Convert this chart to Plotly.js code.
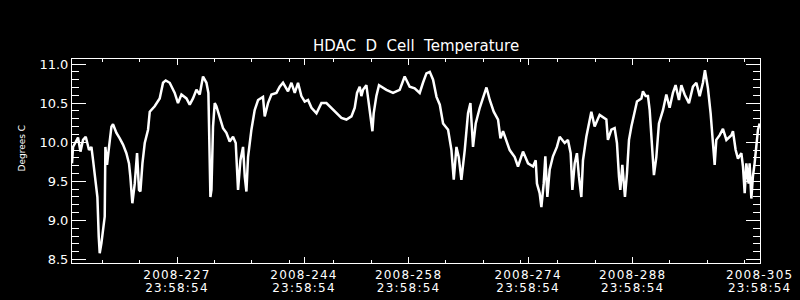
<!DOCTYPE html>
<html><head><meta charset="utf-8">
<script src="https://cdn.plot.ly/plotly-3.0.1.min.js"></script>
<style>html,body{margin:0;padding:0;background:#000;}#chart{width:800px;height:300px;}
#chart .xtick text, #chart .x3tick text { letter-spacing: 1.2px; }</style>
</head><body><div id="chart"></div>
<script>
// Day of year 2008 (fractional) and HDAC D cell temperature (deg C)
const dayOfYear = [
212.94,213.08,213.75,214.07,214.42,214.78,215.22,215.54,215.76,216.12,216.34,216.52,216.65,216.88,217.09,217.32,217.41,217.63,217.90,218.22,218.43,218.89,219.33,219.77,220.22,220.57,220.75,221.02,221.34,221.65,221.91,222.10,222.37,222.68,223.12,223.35,224.01,224.68,225.13,225.49,226.02,226.69,227.13,227.59,228.26,228.70,229.14,229.60,230.04,230.48,230.94,231.20,231.47,231.61,231.82,232.05,232.27,232.72,233.16,233.61,234.05,234.50,234.86,
235.17,235.49,235.84,236.07,236.29,236.51,236.96,237.40,237.85,238.51,238.74,239.18,239.64,240.31,240.75,241.19,241.86,242.32,242.76,243.20,243.65,244.10,244.54,245.00,245.67,246.33,247.00,247.67,248.34,249.01,249.68,250.35,250.79,251.10,251.46,251.68,251.90,252.35,252.57,253.02,253.16,253.33,253.69,254.04,255.03,255.92,256.81,257.48,258.15,258.82,259.49,259.93,260.39,
260.84,261.28,261.74,262.18,262.62,263.29,263.74,264.05,264.41,264.72,265.07,265.52,265.96,266.28,266.63,266.99,267.53,267.97,268.43,268.87,269.40,269.98,270.30,270.65,271.10,271.54,272.21,272.65,273.32,273.99,274.66,275.02,275.19,275.55,275.78,276.09,276.31,276.58,276.89,277.33,277.86,278.23,278.90,279.34,279.70,279.93,280.24,280.54,280.81,281.13,281.35,281.80,282.47,282.91,283.58,
284.48,284.69,285.15,285.59,285.90,286.17,286.35,286.62,286.80,286.97,287.24,287.51,287.83,288.27,288.58,289.17,289.38,289.74,290.05,290.28,290.50,290.72,290.85,291.17,291.52,292.06,292.51,292.95,293.39,293.75,294.20,294.52,294.96,295.54,296.07,296.53,296.97,297.41,297.68,298.08,298.44,298.75,298.98,299.20,299.65,300.09,300.55,301.22,301.43,301.79,302.10,302.55,302.77,303.00,303.22,303.53,303.66,303.89,304.10,304.33,304.55,304.78,305.00
];
const temperature = [
9.73,9.94,10.06,9.88,10.03,10.07,9.90,9.94,9.77,9.43,9.30,8.79,8.58,8.71,8.88,9.05,9.94,9.71,9.94,10.20,10.23,10.12,10.05,9.97,9.86,9.73,9.56,9.22,9.47,9.86,9.39,9.37,9.73,9.99,10.16,10.39,10.46,10.56,10.76,10.79,10.76,10.63,10.50,10.61,10.56,10.48,10.56,10.67,10.61,10.84,10.76,10.63,9.30,9.39,10.20,10.50,10.46,10.33,10.18,10.12,10.01,10.07,9.99,
9.39,9.77,9.94,9.56,9.37,9.81,10.16,10.41,10.54,10.58,10.33,10.50,10.61,10.63,10.71,10.76,10.65,10.76,10.63,10.76,10.59,10.52,10.54,10.44,10.37,10.50,10.50,10.44,10.37,10.31,10.29,10.33,10.44,10.63,10.71,10.59,10.67,10.73,10.57,10.24,10.14,10.37,10.59,10.73,10.67,10.63,10.67,10.84,10.71,10.69,10.63,10.76,10.88,
10.90,10.80,10.58,10.48,10.24,10.16,9.90,9.52,9.94,9.81,9.52,9.90,10.37,10.50,9.94,10.24,10.44,10.58,10.70,10.54,10.39,10.29,10.05,10.14,10.03,9.90,9.81,9.69,9.88,9.73,9.69,9.77,9.47,9.35,9.17,9.47,9.82,9.30,9.65,9.82,9.94,10.07,9.99,10.03,9.86,9.39,9.73,9.86,9.56,9.30,9.77,10.07,10.39,10.20,10.35,
10.29,10.03,10.16,10.18,9.99,9.56,9.39,9.71,9.43,9.30,9.60,10.03,10.20,10.39,10.52,10.56,10.65,10.59,10.59,10.41,10.07,9.64,9.58,9.81,10.24,10.41,10.61,10.44,10.63,10.73,10.54,10.73,10.61,10.50,10.71,10.76,10.59,10.76,10.92,10.69,10.37,9.99,9.71,10.03,10.09,10.17,10.03,10.09,10.14,9.90,9.79,9.86,9.69,9.35,9.73,9.47,9.73,9.28,9.56,9.73,9.94,10.16,10.24
];
const majorTickDays = [227, 244, 258, 274, 288, 305];
const majorTickDates = ["2008-227", "2008-244", "2008-258", "2008-274", "2008-288", "2008-305"];
const majorTickTimes = ["23:58:54", "23:58:54", "23:58:54", "23:58:54", "23:58:54", "23:58:54"];
const minorTickDays = [217, 222, 232, 237, 242, 248, 253, 263, 268, 273, 278, 283, 293, 298, 303];
const yTickValues = [8.5, 9.0, 9.5, 10.0, 10.5, 11.0];
const yTickLabels = ["8.5", "9.0", "9.5", "10.0", "10.5", "11.0"];
const xRange = [212.94, 305.05];
const yRange = [8.456, 11.064];
const chartTitle = "HDAC\u00a0 D\u00a0 Cell\u00a0 Temperature";
const yTitle = "Degrees C";

const FONT = "DejaVu Sans, Liberation Sans, sans-serif";
const W = "#ffffff";

const baseX = {
  range: xRange, autorange: false, tickmode: "array", tickvals: majorTickDays,
  ticks: "inside", ticklen: 6, tickwidth: 1, tickcolor: W,
  showline: true, linecolor: W, linewidth: 1, showgrid: false, zeroline: false,
  minor: {tickmode: "array", tickvals: minorTickDays, ticks: "inside", ticklen: 3, tickwidth: 1, tickcolor: W, showgrid: false},
  fixedrange: true
};
const baseY = {
  range: yRange, autorange: false, tickmode: "array", tickvals: yTickValues,
  ticks: "inside", ticklen: 14, tickwidth: 1, tickcolor: W,
  showline: true, linecolor: W, linewidth: 1, showgrid: false, zeroline: false,
  minor: {tickmode: "linear", tick0: 8.5, dtick: 0.1, ticks: "inside", ticklen: 7, tickwidth: 1, tickcolor: W, showgrid: false},
  fixedrange: true
};

const traces = [
  {x: dayOfYear, y: temperature, type: "scatter", mode: "lines",
   line: {color: W, width: 2.5}, hoverinfo: "skip", showlegend: false},
  {x: [null], y: [null], xaxis: "x2", yaxis: "y2", type: "scatter", mode: "lines",
   hoverinfo: "skip", showlegend: false},
  {x: [null], y: [null], xaxis: "x3", yaxis: "y", type: "scatter", mode: "lines",
   hoverinfo: "skip", showlegend: false}
];

const layout = {
  width: 800, height: 300,
  paper_bgcolor: "#000", plot_bgcolor: "#000",
  margin: {l: 72, r: 40, t: 59, b: 37, pad: 0},
  font: {family: FONT, color: W},
  title: {text: chartTitle, x: 0.52, xanchor: "center", y: 1 - 46/300, yanchor: "middle",
          font: {family: FONT, size: 15, color: W}},
  xaxis: Object.assign({}, baseX, {ticktext: majorTickDates, ticklabelstandoff: 1,
          tickfont: {family: FONT, size: 12, color: W}}),
  xaxis2: Object.assign({}, baseX, {overlaying: "x", side: "top", anchor: "y", showticklabels: false}),
  xaxis3: {range: xRange, autorange: false, overlaying: "x", side: "bottom", anchor: "y",
           tickmode: "array", tickvals: majorTickDays, ticktext: majorTickTimes,
           ticks: "", showline: false, showgrid: false, zeroline: false, fixedrange: true,
           ticklabelstandoff: 16, tickfont: {family: FONT, size: 12, color: W}},
  yaxis: Object.assign({}, baseY, {ticktext: yTickLabels, tickfont: {family: FONT, size: 13, color: W}}),
  yaxis2: Object.assign({}, baseY, {overlaying: "y", side: "right", anchor: "x", showticklabels: false}),
  annotations: [{
    text: yTitle, xref: "paper", yref: "paper", x: -0.0724, y: 0.562,
    xanchor: "center", yanchor: "middle", textangle: -90, showarrow: false,
    font: {family: FONT, size: 9, color: W}
  }]
};

Plotly.newPlot("chart", traces, layout, {displayModeBar: false, staticPlot: true});
</script>
</body></html>
